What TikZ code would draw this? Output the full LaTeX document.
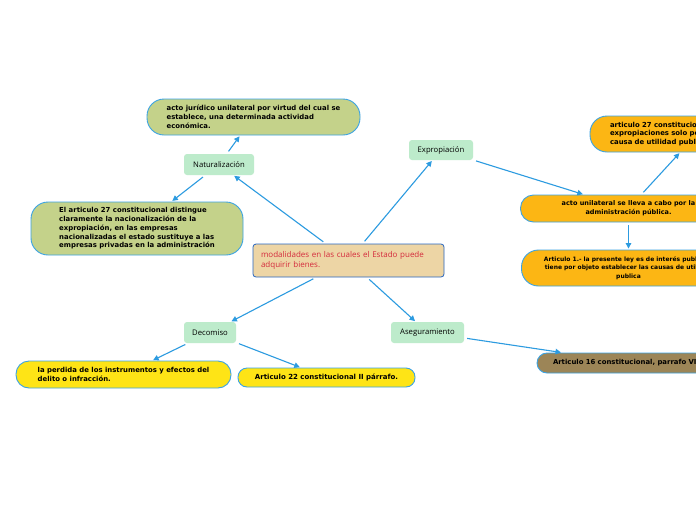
\documentclass[tikz,border=0pt]{standalone}
\usepackage{fontspec}
\setmainfont{DejaVu Sans}
\newfontfamily\topicfont{Open Sans}
\usetikzlibrary{arrows.meta}
\definecolor{conn}{HTML}{2C9BE0}
\definecolor{bord}{HTML}{3BA3E3}
\definecolor{olive}{HTML}{C4D28A}
\definecolor{orng}{HTML}{FCB614}
\definecolor{yell}{HTML}{FEE416}
\definecolor{brwn}{HTML}{9C8557}
\definecolor{topicg}{HTML}{BDEBCB}
\definecolor{centfill}{HTML}{EDD5A5}
\definecolor{centbord}{HTML}{2866C0}
\definecolor{centtext}{HTML}{D42A3C}
\tikzset{
  topicbox/.style={fill=topicg, rounded corners=3pt, inner sep=0pt, font=\topicfont\fontsize{7.7}{8}\selectfont},
  detail/.style={draw=bord, line width=0.9pt, inner sep=0pt, font=\bfseries\fontsize{6.9}{8.9}\selectfont},
  conn/.style={draw=conn, line width=1.1pt, -{Triangle[length=5.5pt,width=5.5pt]}, shorten <=3pt, shorten >=1pt},
}
\begin{document}
\begin{tikzpicture}[x=1pt,y=-1pt]
\useasboundingbox (0,0) rectangle (696,520);
\clip (0,0) rectangle (696,520);
\fill[white] (0,0) rectangle (696,520);
% central
\node[fill=centfill, draw=centbord, line width=0.8pt, rounded corners=3pt, minimum width=191pt, minimum height=33pt, inner xsep=8pt, inner ysep=0pt, text width=175pt, align=left, text=centtext, font=\topicfont\fontsize{8}{10}\selectfont] (c) at (348.5,260.5) {modalidades en las cuales el Estado puede\\adquirir bienes.};
% topics
\node[topicbox, minimum width=70pt, minimum height=21pt] (nat) at (219,164.5) {Naturalización};
\node[topicbox, minimum width=64pt, minimum height=20pt] (exp) at (441,150) {Expropiación};
\node[topicbox, minimum width=52pt, minimum height=21pt] (dec) at (210,332.5) {Decomiso};
\node[topicbox, minimum width=73pt, minimum height=21pt] (ase) at (427.5,332.5) {Aseguramiento};
% details
\node[detail, fill=olive, rounded corners=17pt, minimum width=213pt, minimum height=36pt, align=left] (a) at (253.5,117) {acto jurídico unilateral por virtud del cual se\\establece, una determinada actividad\\económica.};
\node[detail, fill=olive, rounded corners=17pt, minimum width=212pt, minimum height=53pt, align=left, font=\bfseries\fontsize{6.9}{8.75}\selectfont] (b) at (137,228.5) {El articulo 27 constitucional distingue\\claramente la nacionalización de la\\expropiación, en las empresas\\nacionalizadas el estado sustituye a las\\empresas privadas en la administración};
\node[detail, fill=orng, rounded corners=17pt, minimum width=214pt, minimum height=36pt, text width=174pt, align=left, inner xsep=20pt] (cc) at (697,134) {articulo 27 constitucional las\\expropiaciones solo podrán hacerse por\\causa de utilidad publica};
\node[detail, fill=orng, rounded corners=13pt, minimum width=216pt, minimum height=27pt, align=center, font=\bfseries\fontsize{6.5}{8.7}\selectfont] (d) at (628.5,208.5) {acto unilateral se lleva a cabo por la\\administración pública.};
\node[detail, fill=orng, rounded corners=17pt, minimum width=214pt, minimum height=36pt, align=center, font=\bfseries\fontsize{6}{8.6}\selectfont] (e) at (628.5,268) {Articulo 1.- la presente ley es de interés publico y\\tiene por objeto establecer las causas de utilidad\\publica};
\node[detail, fill=yell, rounded corners=13pt, minimum width=215pt, minimum height=27pt, align=left] (f) at (123.5,374.5) {la perdida de los instrumentos y efectos del\\delito o infracción.};
\node[detail, fill=yell, rounded corners=9pt, minimum width=177pt, minimum height=19pt, font=\bfseries\fontsize{7}{8.9}\selectfont] (g) at (326.5,377.5) {Articulo 22 constitucional II párrafo.};
\node[detail, fill=brwn, rounded corners=10pt, minimum width=190pt, minimum height=20pt, text width=158pt, align=left, inner xsep=16pt] (h) at (632,363) {Articulo 16 constitucional, parrafo VI};
% connectors
\draw[conn] (c) -- (nat);
\draw[conn] (nat) -- (a);
\draw[conn] (nat) -- (b);
\draw[conn] (c) -- (exp);
\draw[conn] (exp) -- (d);
\draw[conn] (d) -- (cc);
\draw[conn] (d) -- (e);
\draw[conn] (c) -- (dec);
\draw[conn] (dec) -- (f);
\draw[conn] (dec) -- (g);
\draw[conn] (c) -- (ase);
\draw[conn] (ase) -- (h);
\end{tikzpicture}
\end{document}
